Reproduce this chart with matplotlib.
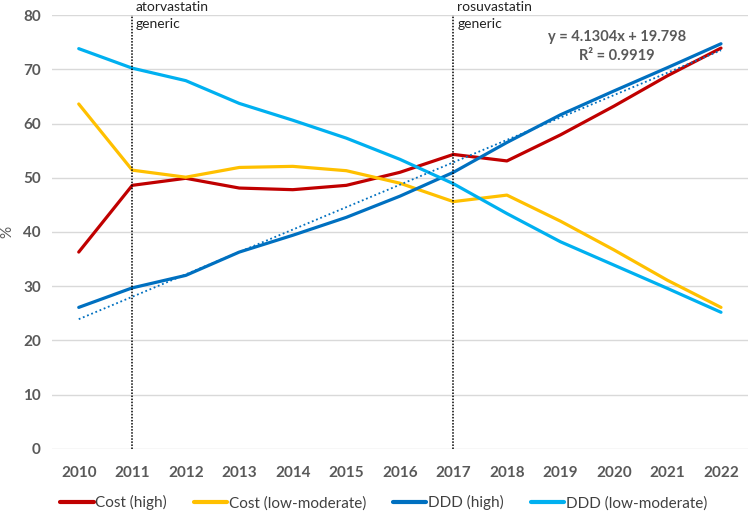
import matplotlib
matplotlib.use('Agg')
import matplotlib.pyplot as plt
import numpy as np

plt.rcParams['font.family'] = ['Lato', 'DejaVu Sans']

years = [2010, 2011, 2012, 2013, 2014, 2015, 2016, 2017, 2018, 2019, 2020, 2021, 2022]
cost_high = [36.3, 48.6, 49.9, 48.1, 47.8, 48.6, 51.0, 54.3, 53.1, 57.9, 63.2, 68.8, 73.9]
cost_low = [63.6, 51.4, 50.1, 51.9, 52.1, 51.3, 49.0, 45.6, 46.8, 42.0, 36.7, 31.1, 26.1]
ddd_high = [26.1, 29.7, 32.0, 36.3, 39.4, 42.7, 46.6, 51.0, 56.5, 61.6, 66.0, 70.3, 74.7]
ddd_low = [73.8, 70.2, 67.9, 63.7, 60.6, 57.3, 53.4, 48.9, 43.4, 38.2, 33.9, 29.6, 25.2]

# linear trend for DDD (high), x = 1..13
trend_slope = 4.1304
trend_intercept = 19.798

events = [(2011, 'atorvastatin\ngeneric'), (2017, 'rosuvastatin\ngeneric')]

fig = plt.figure(figsize=(7.5, 5.14), dpi=100)
ax = fig.add_axes([0.0693, 0.1265, 0.9277, 0.8443])

x = np.arange(len(years))
ax.plot(x, cost_high, color='#C00000', lw=2.3, label='Cost (high)', solid_capstyle='round')
ax.plot(x, cost_low, color='#FFC000', lw=2.3, label='Cost (low-moderate)', solid_capstyle='round')
ax.plot(x, ddd_high, color='#0070C0', lw=2.3, label='DDD (high)', solid_capstyle='round')
ax.plot(x, ddd_low, color='#00B0F0', lw=2.3, label='DDD (low-moderate)', solid_capstyle='round')

trend = trend_slope * (x + 1) + trend_intercept
ax.plot(x, trend, color='#0070C0', lw=1.3, linestyle=(0, (1, 1.5)))

for yr, txt in events:
    xi = years.index(yr)
    ax.plot([xi, xi], [0, 80], color='black', lw=1.1, linestyle=(0, (1, 1)))
    ax.text(xi + 0.07, 82.6, txt, fontsize=10, color='#222222', va='top', ha='left',
            linespacing=1.55, clip_on=False)

ax.text(10.05, 74.2, 'y = 4.1304x + 19.798\nR² = 0.9919', fontsize=10.5, fontweight='bold',
        color='#595959', ha='center', va='center', linespacing=1.5)

ax.set_xlim(-0.5, len(years) - 0.5)
ax.set_ylim(0, 80)
ax.set_yticks(range(0, 81, 10))
ax.set_xticks(x)
ax.set_xticklabels([str(y) for y in years])
ax.tick_params(axis='both', length=0, labelsize=11, labelcolor='#595959', pad=8)
for lbl in ax.get_xticklabels() + ax.get_yticklabels():
    lbl.set_fontweight('bold')
ax.tick_params(axis='x', pad=12)
ax.grid(axis='y', color='#D9D9D9', lw=1)
ax.set_axisbelow(True)
for s in ax.spines.values():
    s.set_visible(False)

ax.set_ylabel('%', fontsize=11, color='#595959')
ax.yaxis.set_label_coords(-0.054, 0.5)

leg = fig.legend(loc='center left', bbox_to_anchor=(0.08, 0.022), ncol=4, frameon=False,
                 fontsize=11, handlelength=2.2, handletextpad=0.1, columnspacing=1.75,
                 labelcolor='#404040', borderaxespad=0, borderpad=0)
for line in leg.get_lines():
    line.set_linewidth(3)

plt.savefig('out.png', dpi=100)
